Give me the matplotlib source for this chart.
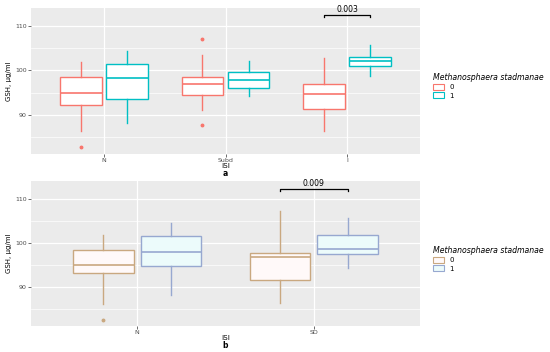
import matplotlib.pyplot as plt
from matplotlib.patches import Patch
from matplotlib.ticker import MultipleLocator

# panel a: ISI groups N / Subd / I
cats_a = ['N', 'Subd', 'I']
# (whislo, q1, med, q3, whishi, outliers) per category, for group 0 and 1
a_g0 = [(86.4, 92.3, 94.9, 98.6, 101.8, [82.7]),
        (91.1, 94.4, 96.9, 98.5, 103.5, [107.0, 87.8]),
        (86.4, 91.4, 94.7, 97.0, 102.7, [])]
a_g1 = [(88.1, 93.5, 98.2, 101.5, 104.4, []),
        (94.3, 96.0, 97.8, 99.7, 102.0, []),
        (98.7, 100.9, 102.0, 103.1, 105.7, [])]
a_pval = '0.003'
a_pcat = 2
a_py = 112.4

# panel b: ISI groups N / SD
cats_b = ['N', 'SD']
b_g0 = [(86.2, 93.1, 95.0, 98.3, 101.8, [82.6]),
        (86.4, 91.6, 96.7, 97.7, 107.2, [])]
b_g1 = [(88.1, 94.8, 98.0, 101.5, 104.6, []),
        (94.4, 97.5, 98.7, 101.8, 105.7, [])]
b_pval = '0.009'
b_pcat = 1
b_py = 112.3

W, H = 550, 352
fig = plt.figure(figsize=(W / 100, H / 100), dpi=100)


def stats(rows):
    out = []
    for lo, q1, med, q3, hi, fl in rows:
        out.append(dict(whislo=lo, q1=q1, med=med, q3=q3, whishi=hi, fliers=fl))
    return out


def draw_panel(rect, cats, g0, g1, cols, fills, pval, pcat, py, letter):
    l, t, r, b = rect
    ax = fig.add_axes([l / W, 1 - b / H, (r - l) / W, (b - t) / H])
    ax.set_facecolor('#EBEBEB')
    n = len(cats)
    pos = list(range(1, n + 1))
    dx = 0.19
    for data, shift, ec, fc in [(g0, -dx, cols[0], fills[0]), (g1, dx, cols[1], fills[1])]:
        ax.bxp(stats(data), positions=[p + shift for p in pos], widths=0.34,
               patch_artist=True, showcaps=False,
               boxprops=dict(facecolor=fc, edgecolor=ec, linewidth=1.0),
               medianprops=dict(color=ec, linewidth=1.2),
               whiskerprops=dict(color=ec, linewidth=1.0),
               flierprops=dict(marker='o', markersize=1.8, markerfacecolor=ec,
                               markeredgecolor=ec),
               zorder=3)
    # significance bracket
    x0, x1 = pcat + 1 - dx, pcat + 1 + dx
    ax.plot([x0, x0, x1, x1], [py - 0.5, py, py, py - 0.5], color='black', lw=0.9, zorder=4)
    ax.text((x0 + x1) / 2, py + 0.2, pval, ha='center', va='bottom', fontsize=5.5, zorder=4)

    ax.set_xlim(0.4, n + 0.6)
    ax.set_ylim(81.2, 114)
    ax.set_xticks(pos)
    ax.set_xticklabels(cats)
    ax.yaxis.set_major_locator(MultipleLocator(10))
    ax.yaxis.set_minor_locator(MultipleLocator(5))
    ax.set_yticks([90, 100, 110])
    ax.grid(True, which='major', color='white', lw=0.9, zorder=0)
    ax.grid(True, which='minor', axis='y', color='white', lw=0.5, zorder=0)
    ax.set_axisbelow(True)
    for s in ax.spines.values():
        s.set_visible(False)
    ax.tick_params(axis='both', which='major', labelsize=4.5, length=2, width=0.5,
                   color='#333333', labelcolor='#4D4D4D', pad=1.0)
    ax.tick_params(axis='both', which='minor', length=0)
    ax.set_ylabel('GSH, μg/ml', fontsize=5, labelpad=2)
    xm = (l + r) / 2 / W
    fig.text(xm, 1 - (b + 12.5) / H, 'ISI', ha='center', va='center', fontsize=5.2)
    fig.text(xm, 1 - (b + 19.5) / H, letter, ha='center', va='center', fontsize=5.5,
             fontweight='bold')

    handles = [Patch(facecolor=fills[0], edgecolor=cols[0], lw=0.8, label='0'),
               Patch(facecolor=fills[1], edgecolor=cols[1], lw=0.8, label='1')]
    ym = 1 - (t + 60) / H
    fig.legend(handles=handles, loc='upper left', bbox_to_anchor=(428 / W, ym),
               title='Methanosphaera stadmanae', frameon=False, fontsize=5,
               title_fontproperties={'style': 'italic', 'size': 5.6},
               handlelength=1.6, handleheight=0.9, labelspacing=0.3,
               borderpad=0.2, alignment='left')
    return ax


draw_panel((31, 8, 420, 154), cats_a, a_g0, a_g1,
           ['#F8766D', '#00BFC4'], ['white', 'white'],
           a_pval, a_pcat, a_py, 'a')
draw_panel((31, 181, 420, 326), cats_b, b_g0, b_g1,
           ['#C9A880', '#97A8D0'], ['#FFF9F9', '#ECFBFB'],
           b_pval, b_pcat, b_py, 'b')

fig.savefig('out.png', dpi=100)
